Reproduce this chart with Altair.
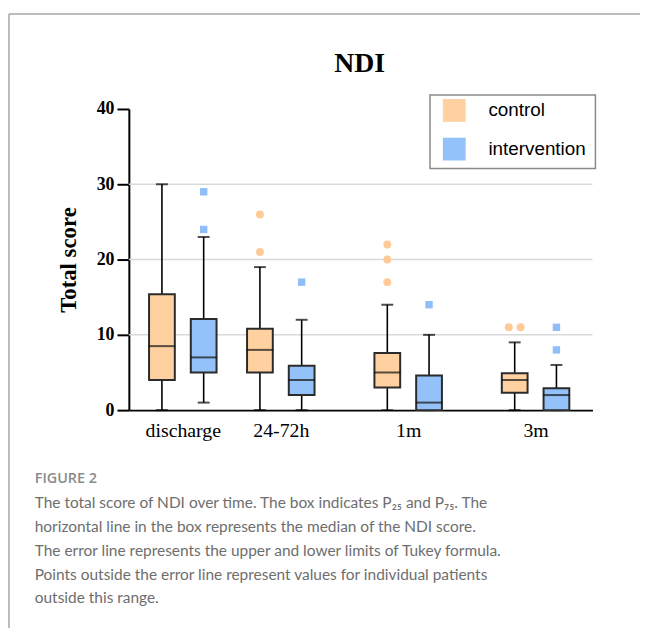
import altair as alt
import pandas as pd

# ---------------- data ----------------
times = ["discharge", "24-72h", "1m", "3m"]
time_pos = [0, 1, 2.3, 3.6]
groups = ["control", "intervention"]
group_colors = ["#FFD1A0", "#93C1F9"]

ctrl_lower = [0, 0, 0, 0]
ctrl_q1 = [4, 5, 3, 2.3]
ctrl_median = [8.5, 8, 5, 4]
ctrl_q3 = [15.4, 10.8, 7.6, 4.9]
ctrl_upper = [30, 19, 14, 9]

int_lower = [1, 0, 0, 0]
int_q1 = [5, 2, 0, 0]
int_median = [7, 4, 1, 2]
int_q3 = [12.1, 5.9, 4.6, 2.9]
int_upper = [23, 12, 10, 6]

# outliers: (time, value, dodge index for tied values)
ctrl_out_time = ["24-72h", "24-72h", "1m", "1m", "1m", "3m", "3m"]
ctrl_out_val = [26, 21, 22, 20, 17, 11, 11]
ctrl_out_dodge = [0, 0, 0, 0, 0, -1, 1]
int_out_time = ["discharge", "discharge", "24-72h", "1m", "3m", "3m"]
int_out_val = [29, 24, 17, 14, 11, 8]
int_out_dodge = [0, 0, 0, 0, 0, 0]

grid_values = [10, 20, 30]
y_ticks = [0, 10, 20, 30, 40]

caption_head = "FIGURE 2"
caption_lines = [
    "The total score of NDI over time. The box indicates P\u2082\u2085 and P\u2087\u2085. The",
    "horizontal line in the box represents the median of the NDI score.",
    "The error line represents the upper and lower limits of Tukey formula.",
    "Points outside the error line represent values for individual patients",
    "outside this range.",
]

# ---------------- tables ----------------
pos_of = dict(zip(times, time_pos))
rows = []
for g, lo, q1, md, q3, up in [
    ("control", ctrl_lower, ctrl_q1, ctrl_median, ctrl_q3, ctrl_upper),
    ("intervention", int_lower, int_q1, int_median, int_q3, int_upper),
]:
    for i, t in enumerate(times):
        rows.append(dict(time=t, pos=time_pos[i], group=g, lower=lo[i], q1=q1[i],
                         median=md[i], q3=q3[i], upper=up[i]))
stats = pd.DataFrame(rows)

ctrl_out = pd.DataFrame(dict(time=ctrl_out_time, value=ctrl_out_val, dodge=ctrl_out_dodge))
ctrl_out["pos"] = ctrl_out["time"].map(pos_of)
ctrl_out["group"] = "control"
int_out = pd.DataFrame(dict(time=int_out_time, value=int_out_val, dodge=int_out_dodge))
int_out["pos"] = int_out["time"].map(pos_of)
int_out["group"] = "intervention"

grid_df = pd.DataFrame(dict(g=grid_values))

GROUP_SHIFT = 0.213
DODGE = 0.06
xcalc = f"datum.pos + (datum.group == 'control' ? -{GROUP_SHIFT} : {GROUP_SHIFT})"
xcalc_out = xcalc + f" + datum.dodge * {DODGE}"

# ---------------- scales / axes ----------------
label_expr = " : ".join(
    f"datum.value == {p} ? '{t}'" for p, t in zip(time_pos, times)
) + " : ''"

x_scale = alt.Scale(domain=[-0.5, 4.13], nice=False, zero=False)
y_scale = alt.Scale(domain=[0, 40], nice=False, zero=True)

x_axis = alt.Axis(
    values=time_pos, labelExpr=label_expr, ticks=False, grid=False, title=None,
    domainColor="black", domainWidth=2, labelFont="Liberation Serif",
    labelFontSize=20, labelColor="black", labelPadding=11, labelFlush=False,
    labelOverlap=False,
)
y_axis = alt.Axis(
    values=y_ticks, grid=False, title="Total score", tickSize=12, tickWidth=2,
    tickColor="black", domainColor="black", domainWidth=2,
    labelFont="Liberation Serif", labelFontWeight="bold", labelFontSize=18,
    labelColor="black", labelPadding=3, titleFont="Liberation Serif",
    titleFontWeight="bold", titleFontSize=23, titleColor="black", titlePadding=16,
)


def X(field="x:Q"):
    return alt.X(field, scale=x_scale, axis=x_axis)


def Y(field):
    return alt.Y(field, scale=y_scale, axis=y_axis)


one = alt.Data(values=[{"k": 1}])

# ---------------- layers ----------------
frame_left = alt.Chart(one).mark_rule(color="#a6a6a6", strokeWidth=1.5).encode(
    x=alt.value(-121), y=alt.value(-96), y2=alt.value(530)
)
frame_top = alt.Chart(one).mark_rule(color="#a6a6a6", strokeWidth=1.5).encode(
    x=alt.value(-121), x2=alt.value(530), y=alt.value(-96)
)

grid = alt.Chart(grid_df).mark_rule(color="#d9d9d9", strokeWidth=1.5).encode(
    y=Y("g:Q")
)

base = alt.Chart(stats).transform_calculate(x=xcalc)

whisker = base.mark_rule(color="black", strokeWidth=1.6).encode(
    x=X(), y=Y("lower:Q"), y2="upper:Q"
)
cap_up = base.mark_tick(orient="horizontal", size=12, thickness=2, color="black").encode(
    x=X(), y=Y("upper:Q")
)
cap_lo = base.mark_tick(orient="horizontal", size=12, thickness=2, color="black").encode(
    x=X(), y=Y("lower:Q")
)
box = base.mark_bar(size=26, stroke="#2b2b2b", strokeWidth=2, opacity=1).encode(
    x=X(), y=Y("q1:Q"), y2="q3:Q",
    color=alt.Color(
        "group:N",
        scale=alt.Scale(domain=groups, range=group_colors),
        legend=alt.Legend(
            title=None, orient="none", legendX=317, legendY=-10, padding=0,
            symbolType="square", symbolSize=529, symbolStrokeWidth=0,
            symbolOpacity=1, rowPadding=16, labelOffset=23,
            labelFont="Liberation Sans", labelFontSize=19, labelColor="black",
        ),
    ),
)
median = base.mark_tick(orient="horizontal", size=27, thickness=2, color="#111").encode(
    x=X(), y=Y("median:Q")
)

out_c = alt.Chart(ctrl_out).transform_calculate(x=xcalc_out).mark_point(
    shape="circle", filled=True, size=64, color="#FFCA96", opacity=1
).encode(x=X(), y=Y("value:Q"))
out_i = alt.Chart(int_out).transform_calculate(x=xcalc_out).mark_point(
    shape="square", filled=True, size=56, color="#8FBEF8", opacity=1
).encode(x=X(), y=Y("value:Q"))

legend_box = alt.Chart(one).mark_rect(fill=None, stroke="#8a8a8a", strokeWidth=1.5).encode(
    x=alt.value(304), x2=alt.value(471), y=alt.value(-14), y2=alt.value(60)
)

title = alt.Chart(one).mark_text(
    text="NDI", font="Liberation Serif", fontWeight="bold", fontSize=28,
    color="black", align="center", baseline="alphabetic"
).encode(x=alt.value(233), y=alt.value(-37))

cap_head = alt.Chart(one).mark_text(
    text=caption_head, font="Open Sans", fontWeight=600, fontSize=14.5,
    color="#8a8a8a", align="left", baseline="middle"
).encode(x=alt.value(-95), y=alt.value(374))

cap_body = alt.Chart(one).mark_text(
    text=caption_lines, font="Lato", fontSize=15.6,
    color="#6e6e6e", align="left", baseline="middle", lineHeight=24
).encode(x=alt.value(-95), y=alt.value(398))

chart = alt.layer(
    frame_left, frame_top, grid, whisker, cap_up, cap_lo, box, median,
    out_c, out_i, legend_box, title, cap_head, cap_body
).properties(
    width=468, height=304,
    autosize=alt.AutoSizeParams(type="none"),
    padding={"left": 122, "top": 99, "right": 48, "bottom": 217},
).resolve_scale(color="independent").configure_view(stroke=None)

chart.save("out.html", embed_options={"renderer": "svg", "actions": False})
